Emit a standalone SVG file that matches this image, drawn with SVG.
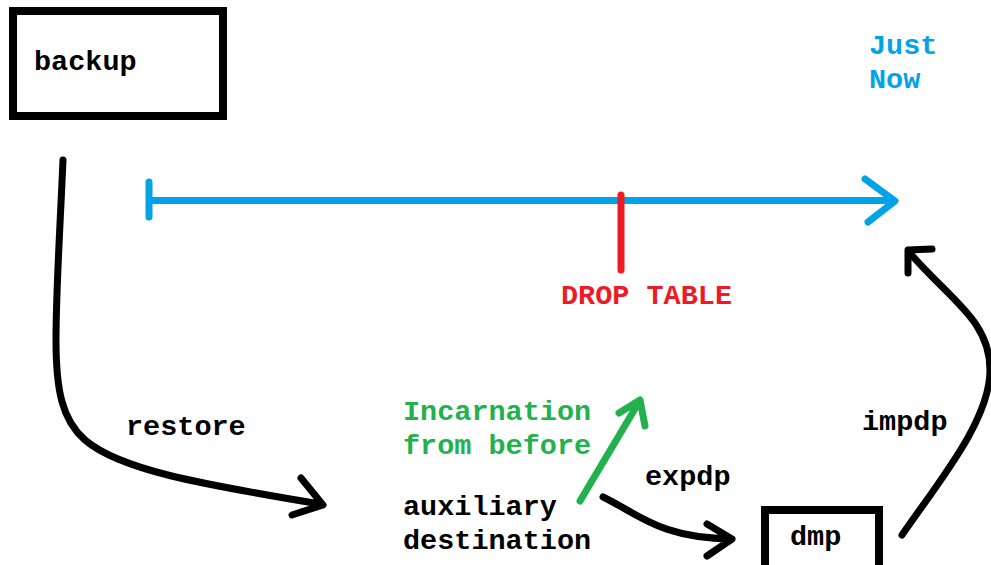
<svg xmlns="http://www.w3.org/2000/svg" width="991" height="565" viewBox="0 0 991 565">
<style>
text{font-family:"Liberation Mono","Courier New",monospace;font-weight:bold;font-size:28.5px}
.k{fill:#000}.b{fill:#00A2E8}.r{fill:#ED1C24}.g{fill:#22B14C}
.box{fill:#fff;stroke:#000;stroke-width:8}
.ln{fill:none;stroke-linecap:round;stroke-linejoin:round;stroke-width:7}
</style>
<rect width="991" height="565" fill="#fff"/>
<g id="backup"><rect class="box" x="13" y="11" width="210" height="105"/><text class="k" x="34" y="70">backup</text></g>
<g id="dmp"><rect class="box" x="765" y="510" width="114" height="70"/><text class="k" x="790" y="545">dmp</text></g>
<g id="timeline">
<path class="ln" stroke="#00A2E8" d="M149 182V217M149 200.5H893M865 179L895 201L868 222"/>
<path class="ln" stroke="#ED1C24" d="M621 195V270"/>
<text class="r" x="561" y="304">DROP TABLE</text>
<text class="b" x="869" y="54">Just</text>
<text class="b" x="869" y="88">Now</text>
</g>
<g id="aux"><text class="k" x="403" y="515">auxiliary</text><text class="k" x="403" y="549">destination</text></g>
<g id="incarnation"><text class="g" x="403" y="420">Incarnation</text><text class="g" x="403" y="454">from before</text></g>
<g id="connectors">
<path class="ln" stroke="#000" d="M63 160C60 230 56 290 56 340C56 390 62 420 85 440C120 470 200 484 320 504M301 478L323 505L292 515"/>
<text class="k" x="126" y="435">restore</text>
<path class="ln" stroke="#22B14C" d="M580 501L639 402M619 413L640 400L645 426"/>
<path class="ln" stroke="#000" d="M603 497C640 515 660 538 732 539M707 524L732 539L707 556"/>
<text class="k" x="645" y="485">expdp</text>
<path class="ln" stroke="#000" d="M902 535C940 480 990 420 990 370C990 320 950 300 909 252M932 249L908 250L908 273"/>
<text class="k" x="862" y="430">impdp</text>
</g>
</svg>
